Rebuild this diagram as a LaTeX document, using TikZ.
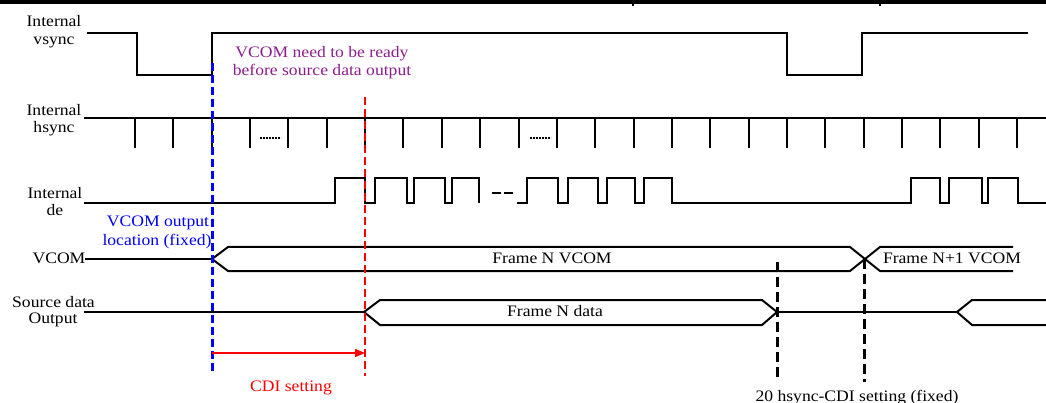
\documentclass[tikz,border=0pt]{standalone}
\usepackage{fontspec}
\setmainfont[FakeStretch=1.1]{Liberation Serif}
\usetikzlibrary{arrows.meta}
\definecolor{vpurple}{RGB}{140,30,140}
\definecolor{vblue}{RGB}{0,0,255}
\definecolor{vred}{RGB}{255,0,0}
\begin{document}
\begin{tikzpicture}[x=1pt,y=-1pt,
  sig/.style={line width=2pt, line join=miter},
  bus/.style={line width=2pt, line join=miter},
  thinsig/.style={line width=1.5pt},
  lbl/.style={font=\fontsize{16}{19}\selectfont, anchor=base, inner sep=0pt},
  bluedash/.style={vblue, line width=3pt, dash pattern=on 8pt off 4pt},
  reddash/.style={vred, line width=1.6pt, dash pattern=on 8pt off 4pt},
  blackdash/.style={black, line width=3pt, dash pattern=on 10pt off 5pt},
  dotsig/.style={line width=2.2pt, dash pattern=on 1.6pt off 1.4pt}]
\useasboundingbox (0,0) rectangle (1046,403);
\fill[white] (0,0) rectangle (1046,403);

% top border
\draw[line width=4pt] (-2,2.5) -- (1048,2.5);
\draw[line width=1.5pt] (633,0) -- (633,6);
\draw[line width=1.5pt] (880,0) -- (880,6);

% ---- labels ----
\node[lbl] (l1a) at (54,27) {Internal};
\node[lbl] (l1b) at (54,45) {vsync};
\node[lbl] (l2a) at (54,116) {Internal};
\node[lbl] (l2b) at (54,133) {hsync};
\node[lbl] (l3a) at (55,199) {Internal};
\node[lbl] (l3b) at (55,216) {de};
\node[lbl] (l4) at (59,263) {VCOM};
\node[lbl] (l5a) at (53.5,307) {Source data};
\node[lbl] (l5b) at (53,323) {Output};

% ---- vsync ----
\draw[sig] (87,33) -- (137,33) -- (137,75) -- (212,75) -- (212,33) -- (787,33)
  -- (787,75) -- (862,75) -- (862,33) -- (1028,33);

% ---- hsync ----
\draw[sig] (84,118) -- (1046,118);
\foreach \k in {0,...,23} \draw[sig] ({135+38.35*\k},118) -- ++(0,30);
\draw[dotsig] (260,138) -- (281,138);
\draw[dotsig] (530,138) -- (551,138);

% ---- de ----
\draw[sig] (84,203) -- (335,203) -- (335,178) -- (365,178) -- (365,203) -- (375,203)
  -- (375,178) -- (407,178) -- (407,203) -- (414,203) -- (414,178) -- (445,178)
  -- (445,203) -- (452,203) -- (452,178) -- (479,178) -- (479,203);
\draw[line width=1.6pt, dash pattern=on 9pt off 3pt] (492,193) -- (514,193);
\draw[sig] (517,203) -- (527,203) -- (527,178) -- (558,178) -- (558,203) -- (568,203)
  -- (568,178) -- (598,178) -- (598,203) -- (607,203) -- (607,178) -- (635,178)
  -- (635,203) -- (644,203) -- (644,178) -- (672,178) -- (672,203) -- (911,203)
  -- (911,178) -- (940,178) -- (940,203) -- (949,203) -- (949,178) -- (982,178)
  -- (982,203) -- (988,203) -- (988,178) -- (1018,178) -- (1018,203) -- (1046,203);

% ---- VCOM ----
\draw[thinsig] (85,259) -- (212,259);
\draw[bus] (212,259) -- (228,247) -- (850,247) -- (880,271) -- (1013,271);
\draw[bus] (212,259) -- (228,271) -- (850,271) -- (880,247) -- (1013,247);
\node[lbl] (fnv) at (552,263) {Frame N VCOM};
\node[lbl] (fn1v) at (952,263) {Frame N+1 VCOM};

% ---- Source data ----
\draw[thinsig] (84,312) -- (364,312);
\draw[bus] (364,312) -- (380,300) -- (762,300) -- (777,312) -- (762,325) -- (380,325) -- cycle;
\draw[thinsig] (777,312) -- (957,312);
\draw[bus] (1046,300) -- (972,300) -- (957,312) -- (972,325) -- (1046,325);
\node[lbl] (fnd) at (555,316) {Frame N data};

% ---- markers ----
\coordinate (bT) at (212,63);
\coordinate (bB) at (212,373);
\coordinate (rT) at (365,97);
\coordinate (rB) at (365,376);
\coordinate (k1T) at (777,262);
\coordinate (k1B) at (777,380);
\coordinate (k2T) at (864,259);
\coordinate (k2B) at (864,382);
\coordinate (aS) at (212,353);
\coordinate (aE) at (365,353);
\draw[bluedash] (bT) -- (bB);
\draw[reddash] (rT) -- (rB);
\draw[blackdash] (k1T) -- (k1B);
\draw[blackdash] (k2T) -- (k2B);
\draw[vred, line width=1.4pt, -{Triangle[length=10pt,width=8pt]}] (aS) -- (aE);

% ---- annotations ----
\node[lbl, text=vpurple] (p1) at (322,58) {VCOM need to be ready};
\node[lbl, text=vpurple] (p2) at (322,76) {before source data output};
\node[lbl, text=vblue] (b1) at (158,227) {VCOM output};
\node[lbl, text=vblue] (b2) at (157,246) {location (fixed)};
\node[lbl, text=vred] (cdi) at (291,391) {CDI setting};
\node[lbl] (h20) at (857,401) {20 hsync-CDI setting (fixed)};
\end{tikzpicture}
\end{document}
